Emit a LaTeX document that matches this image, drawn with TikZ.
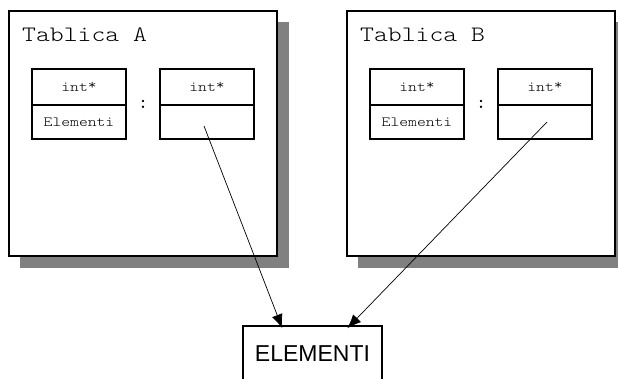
\documentclass[tikz,border=0pt]{standalone}
\usepackage{fontspec}
\newfontfamily\courfont{lmmonolt10-regular.otf}[FakeStretch=1.2]
\newfontfamily\courdark{lmmono10-regular.otf}
\newfontfamily\arialfont{Liberation Sans}
\usetikzlibrary{arrows.meta}
\newcommand{\ptrtype}{int\raisebox{0.18em}{*}}
\begin{document}
\begin{tikzpicture}[x=1pt,y=-1pt,
  table/.style={draw=black,line width=1.6pt,fill=white,minimum width=268pt,minimum height=245pt,inner sep=0pt},
  shadowbox/.style={fill=gray,draw=none},
  cell/.style={draw=black,line width=1.4pt,minimum width=94pt,inner sep=0pt,font=\courfont\fontsize{14}{14}\selectfont},
  title/.style={font=\courfont\fontsize{22}{22}\selectfont,anchor=base west,inner sep=0pt},
  sep/.style={font=\courdark\fontsize{19}{19}\selectfont,inner sep=0pt},
  ptr/.style={line width=0.7pt,-{Latex[length=14pt,width=11pt]}},
  target/.style={draw=black,line width=1.4pt,minimum width=139pt,minimum height=56pt,inner sep=0pt,font=\arialfont\fontsize{23}{23}\selectfont}
]
\useasboundingbox (0,0) rectangle (618,379);
\fill[white] (0,0) rectangle (618,379);

% drop shadows behind the two tables
\fill[shadowbox] (20,22) rectangle (289,268);
\fill[shadowbox] (358,22) rectangle (627,268);

% table A
\node[table] (tabA) at (143,133.5) {};
\node[title] (titA) at (22,42) {Tablica A};
\node[cell,minimum height=36pt] (a1top) at (79,87) {\ptrtype};
\node[cell,minimum height=34pt] (a1bot) at (79,122) {Elementi};
\node[cell,minimum height=36pt] (a2top) at (207,87) {\ptrtype};
\node[cell,minimum height=34pt] (a2bot) at (207,122) {};
\node[sep] (colA) at (143,104) {:};

% table B
\node[table] (tabB) at (481,133.5) {};
\node[title] (titB) at (360,42) {Tablica B};
\node[cell,minimum height=36pt] (b1top) at (417,87) {\ptrtype};
\node[cell,minimum height=34pt] (b1bot) at (417,122) {Elementi};
\node[cell,minimum height=36pt] (b2top) at (545,87) {\ptrtype};
\node[cell,minimum height=34pt] (b2bot) at (545,122) {};
\node[sep] (colB) at (481,104) {:};

% shared element array
\node[target] (elem) at (312.5,354) {ELEMENTI};

% pointers into the shared array
\coordinate (pA) at ([xshift=-3pt,yshift=-4pt]a2bot.center);
\coordinate (pB) at ([xshift=2pt]b2bot.center);
\draw[ptr] (pA) -- ([xshift=40pt,yshift=-3pt]elem.north west);
\draw[ptr] (pB) -- ([xshift=105pt,yshift=-3pt]elem.north west);
\end{tikzpicture}
\end{document}
